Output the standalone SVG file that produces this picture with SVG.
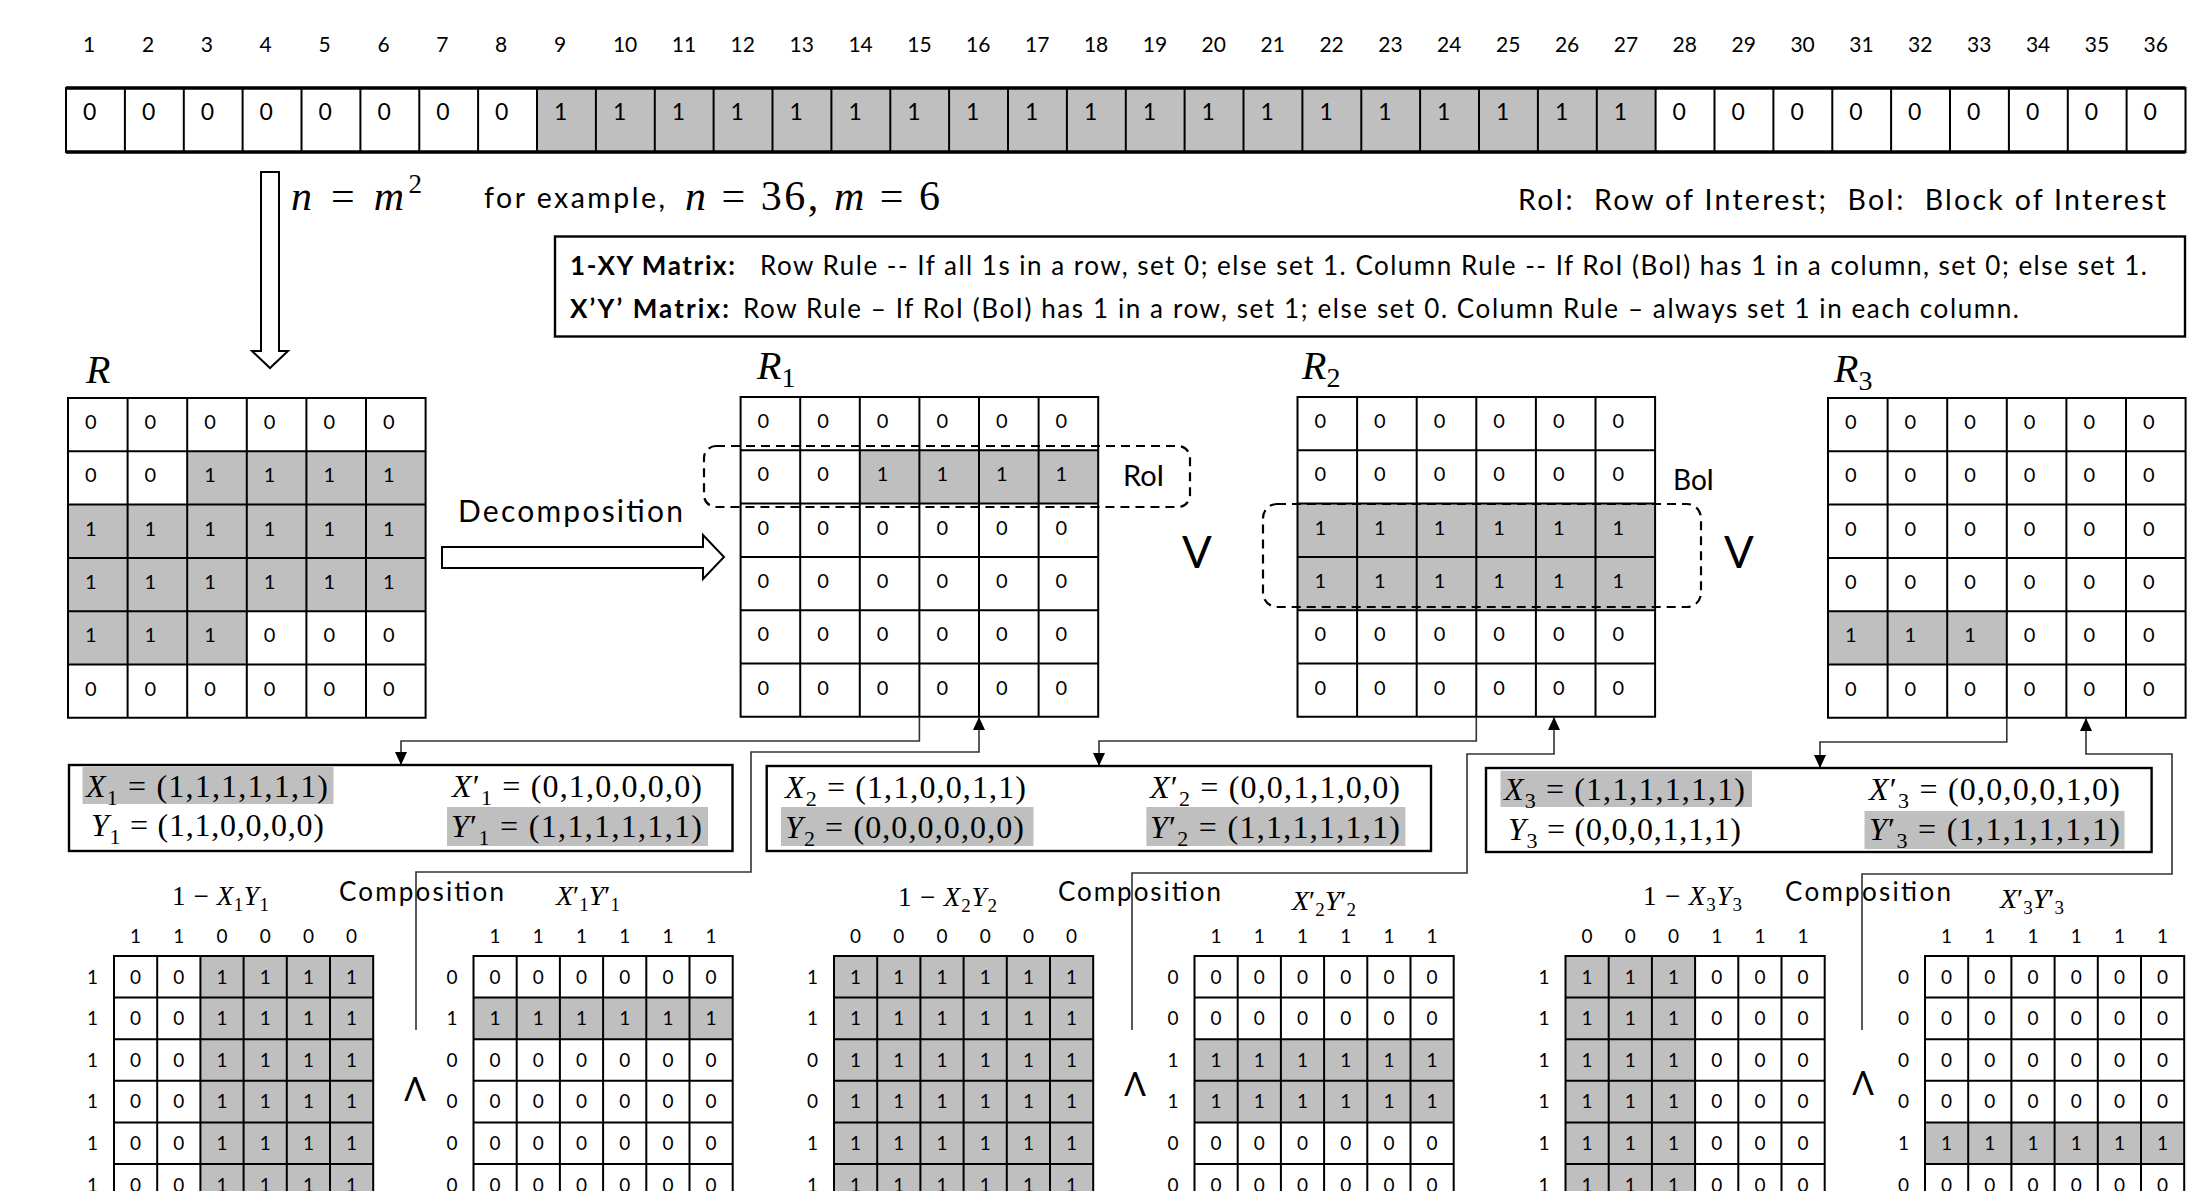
<svg xmlns="http://www.w3.org/2000/svg" xmlns:xlink="http://www.w3.org/1999/xlink" width="2208" height="1191" viewBox="0 0 2208 1191">
<style>
.s{font-family:Lato,"Noto Sans","DejaVu Sans",sans-serif;fill:#000}
.m{font-family:"Liberation Serif","DejaVu Serif",serif;fill:#000}
.i{font-style:italic}
.ix{font-size:21px}
.bv{font-size:23px}
.rc{font-size:20px}
.bc{font-size:19px;text-anchor:middle}
.gr{fill:#bfbfbf}
.grid{fill:none;stroke:#000;stroke-width:2}
.bxf{fill:#fff}
.bxs{fill:none;stroke:#000;stroke-width:2.4}
.dash{fill:none;stroke:#000;stroke-width:2.2;stroke-dasharray:9 6}
.con{fill:none;stroke:#333;stroke-width:1.6}
.ha{fill:#fff;stroke:#000;stroke-width:2}
.op{font-family:Lato,"Noto Sans",sans-serif;font-weight:400;text-anchor:middle;fill:#000}
.vec{font-size:32px}
.sb{font-size:22px}
</style>
<defs>
<marker id="ah" viewBox="0 0 13 12" refX="13" refY="6" markerWidth="13" markerHeight="12" orient="auto" markerUnits="userSpaceOnUse"><path d="M0,0 L13,6 L0,12 Z" fill="#000"/></marker>
<path id="gridL" class="grid" d="M0 0H357.6V319.8H0Z M59.6 0V319.8 M119.2 0V319.8 M178.8 0V319.8 M238.4 0V319.8 M298 0V319.8 M0 53.3H357.6 M0 106.6H357.6 M0 159.9H357.6 M0 213.2H357.6 M0 266.5H357.6"/>
<path id="gridS" class="grid" d="M0 0H259.2V249.6H0Z M43.2 0V249.6 M86.4 0V249.6 M129.6 0V249.6 M172.8 0V249.6 M216 0V249.6 M0 41.6H259.2 M0 83.2H259.2 M0 124.8H259.2 M0 166.4H259.2 M0 208H259.2"/>
</defs>
<rect width="2208" height="1191" fill="#fff"/>

<g id="index" class="s ix">
<text x="83" y="52">1</text><text x="141.9" y="52">2</text><text x="200.8" y="52">3</text><text x="259.6" y="52">4</text><text x="318.5" y="52">5</text><text x="377.4" y="52">6</text><text x="436.3" y="52">7</text><text x="495.1" y="52">8</text><text x="554" y="52">9</text><text x="612.9" y="52">10</text><text x="671.8" y="52">11</text><text x="730.6" y="52">12</text><text x="789.5" y="52">13</text><text x="848.4" y="52">14</text><text x="907.3" y="52">15</text><text x="966.1" y="52">16</text><text x="1025" y="52">17</text><text x="1083.9" y="52">18</text><text x="1142.8" y="52">19</text><text x="1201.6" y="52">20</text><text x="1260.5" y="52">21</text><text x="1319.4" y="52">22</text><text x="1378.3" y="52">23</text><text x="1437.1" y="52">24</text><text x="1496" y="52">25</text><text x="1554.9" y="52">26</text><text x="1613.8" y="52">27</text><text x="1672.6" y="52">28</text><text x="1731.5" y="52">29</text><text x="1790.4" y="52">30</text><text x="1849.3" y="52">31</text><text x="1908.1" y="52">32</text><text x="1967" y="52">33</text><text x="2025.9" y="52">34</text><text x="2084.8" y="52">35</text><text x="2143.6" y="52">36</text>
</g>

<g id="bar">
<rect x="66" y="88" width="2119.5" height="64" fill="#fff"/>
<rect class="gr" x="537" y="88" width="1118.6" height="64"/>
<path class="grid" d="M66 88H2185.5V152H66Z M124.9 88V152 M183.8 88V152 M242.6 88V152 M301.5 88V152 M360.4 88V152 M419.3 88V152 M478.1 88V152 M537 88V152 M595.9 88V152 M654.8 88V152 M713.6 88V152 M772.5 88V152 M831.4 88V152 M890.3 88V152 M949.1 88V152 M1008 88V152 M1066.9 88V152 M1125.8 88V152 M1184.6 88V152 M1243.5 88V152 M1302.4 88V152 M1361.3 88V152 M1420.1 88V152 M1479 88V152 M1537.9 88V152 M1596.8 88V152 M1655.6 88V152 M1714.5 88V152 M1773.4 88V152 M1832.3 88V152 M1891.1 88V152 M1950 88V152 M2008.9 88V152 M2067.8 88V152 M2126.6 88V152"/>
<path d="M66 88H2185.5 M66 152H2185.5" stroke="#000" stroke-width="3.5"/>
<g class="s bv">
<text x="83" y="120">0</text><text x="141.9" y="120">0</text><text x="200.8" y="120">0</text><text x="259.6" y="120">0</text><text x="318.5" y="120">0</text><text x="377.4" y="120">0</text><text x="436.3" y="120">0</text><text x="495.1" y="120">0</text><text x="554" y="120">1</text><text x="612.9" y="120">1</text><text x="671.8" y="120">1</text><text x="730.6" y="120">1</text><text x="789.5" y="120">1</text><text x="848.4" y="120">1</text><text x="907.3" y="120">1</text><text x="966.1" y="120">1</text><text x="1025" y="120">1</text><text x="1083.9" y="120">1</text><text x="1142.8" y="120">1</text><text x="1201.6" y="120">1</text><text x="1260.5" y="120">1</text><text x="1319.4" y="120">1</text><text x="1378.3" y="120">1</text><text x="1437.1" y="120">1</text><text x="1496" y="120">1</text><text x="1554.9" y="120">1</text><text x="1613.8" y="120">1</text><text x="1672.6" y="120">0</text><text x="1731.5" y="120">0</text><text x="1790.4" y="120">0</text><text x="1849.3" y="120">0</text><text x="1908.1" y="120">0</text><text x="1967" y="120">0</text><text x="2025.9" y="120">0</text><text x="2084.8" y="120">0</text><text x="2143.6" y="120">0</text>
</g>
</g>

<g id="labels-top">
<text x="291" y="210" class="m" font-size="42" textLength="131"><tspan class="i">n</tspan> = <tspan class="i">m</tspan><tspan font-size="27" dy="-17">2</tspan></text>
<text x="484" y="208" class="s" font-size="28.5" textLength="181">for example,</text>
<text x="685" y="210" class="m" font-size="42" textLength="255"><tspan class="i">n</tspan> = 36, <tspan class="i">m</tspan> = 6</text>
<text x="1518" y="210" class="s" font-size="28.5" textLength="648" xml:space="preserve">RoI:  Row of Interest;  BoI:  Block of Interest</text>
</g>

<g id="rules">
<rect class="bxs" x="555" y="236.5" width="1630" height="100"/>
<text x="570" y="275" class="s" font-size="26" font-weight="bold" textLength="165">1-XY Matrix:</text>
<text x="760" y="275" class="s" font-size="26" textLength="1387">Row Rule -- If all 1s in a row, set 0; else set 1. Column Rule -- If RoI (BoI) has 1 in a column, set 0; else set 1.</text>
<text x="570" y="318" class="s" font-size="26" font-weight="bold" textLength="159">X’Y’ Matrix:</text>
<text x="743" y="318" class="s" font-size="26" textLength="1276">Row Rule – If RoI (BoI) has 1 in a row, set 1; else set 0. Column Rule – always set 1 in each column.</text>
</g>

<g id="R">
<text x="86" y="383" class="m i" font-size="40">R</text>
<rect x="68" y="398" width="357.6" height="319.8" fill="#fff"/>
<rect class="gr" x="187.2" y="451.3" width="238.4" height="53.3"/>
<rect class="gr" x="68" y="504.6" width="357.6" height="106.6"/>
<rect class="gr" x="68" y="611.2" width="178.8" height="53.3"/>
<use xlink:href="#gridL" x="68" y="398"/>
<g class="s rc">
<text x="85" y="429">0</text><text x="144.6" y="429">0</text><text x="204.2" y="429">0</text><text x="263.8" y="429">0</text><text x="323.4" y="429">0</text><text x="383" y="429">0</text>
<text x="85" y="482.3">0</text><text x="144.6" y="482.3">0</text><text x="204.2" y="482.3">1</text><text x="263.8" y="482.3">1</text><text x="323.4" y="482.3">1</text><text x="383" y="482.3">1</text>
<text x="85" y="535.6">1</text><text x="144.6" y="535.6">1</text><text x="204.2" y="535.6">1</text><text x="263.8" y="535.6">1</text><text x="323.4" y="535.6">1</text><text x="383" y="535.6">1</text>
<text x="85" y="588.9">1</text><text x="144.6" y="588.9">1</text><text x="204.2" y="588.9">1</text><text x="263.8" y="588.9">1</text><text x="323.4" y="588.9">1</text><text x="383" y="588.9">1</text>
<text x="85" y="642.2">1</text><text x="144.6" y="642.2">1</text><text x="204.2" y="642.2">1</text><text x="263.8" y="642.2">0</text><text x="323.4" y="642.2">0</text><text x="383" y="642.2">0</text>
<text x="85" y="695.5">0</text><text x="144.6" y="695.5">0</text><text x="204.2" y="695.5">0</text><text x="263.8" y="695.5">0</text><text x="323.4" y="695.5">0</text><text x="383" y="695.5">0</text>
</g>
</g>

<g id="R1">
<text x="757" y="379" class="m" font-size="40"><tspan class="i">R</tspan><tspan font-size="28" dy="8">1</tspan></text>
<rect x="740.6" y="397" width="357.6" height="319.8" fill="#fff"/>
<rect class="gr" x="859.8" y="450.3" width="238.4" height="53.3"/>
<use xlink:href="#gridL" x="740.6" y="397"/>
<g class="s rc">
<text x="757.6" y="428">0</text><text x="817.2" y="428">0</text><text x="876.8" y="428">0</text><text x="936.4" y="428">0</text><text x="996" y="428">0</text><text x="1055.6" y="428">0</text>
<text x="757.6" y="481.3">0</text><text x="817.2" y="481.3">0</text><text x="876.8" y="481.3">1</text><text x="936.4" y="481.3">1</text><text x="996" y="481.3">1</text><text x="1055.6" y="481.3">1</text>
<text x="757.6" y="534.6">0</text><text x="817.2" y="534.6">0</text><text x="876.8" y="534.6">0</text><text x="936.4" y="534.6">0</text><text x="996" y="534.6">0</text><text x="1055.6" y="534.6">0</text>
<text x="757.6" y="587.9">0</text><text x="817.2" y="587.9">0</text><text x="876.8" y="587.9">0</text><text x="936.4" y="587.9">0</text><text x="996" y="587.9">0</text><text x="1055.6" y="587.9">0</text>
<text x="757.6" y="641.2">0</text><text x="817.2" y="641.2">0</text><text x="876.8" y="641.2">0</text><text x="936.4" y="641.2">0</text><text x="996" y="641.2">0</text><text x="1055.6" y="641.2">0</text>
<text x="757.6" y="694.5">0</text><text x="817.2" y="694.5">0</text><text x="876.8" y="694.5">0</text><text x="936.4" y="694.5">0</text><text x="996" y="694.5">0</text><text x="1055.6" y="694.5">0</text>
</g>
<rect class="dash" x="704" y="446" width="486" height="61" rx="12"/>
<text x="1123" y="486" class="s" font-size="29">RoI</text>
</g>

<text x="1197" y="568" class="op" font-size="44">V</text>

<g id="R2">
<text x="1302" y="379" class="m" font-size="40"><tspan class="i">R</tspan><tspan font-size="28" dy="8">2</tspan></text>
<rect x="1297.5" y="397" width="357.6" height="319.8" fill="#fff"/>
<rect class="gr" x="1297.5" y="503.6" width="357.6" height="106.6"/>
<use xlink:href="#gridL" x="1297.5" y="397"/>
<g class="s rc">
<text x="1314.5" y="428">0</text><text x="1374.1" y="428">0</text><text x="1433.7" y="428">0</text><text x="1493.3" y="428">0</text><text x="1552.9" y="428">0</text><text x="1612.5" y="428">0</text>
<text x="1314.5" y="481.3">0</text><text x="1374.1" y="481.3">0</text><text x="1433.7" y="481.3">0</text><text x="1493.3" y="481.3">0</text><text x="1552.9" y="481.3">0</text><text x="1612.5" y="481.3">0</text>
<text x="1314.5" y="534.6">1</text><text x="1374.1" y="534.6">1</text><text x="1433.7" y="534.6">1</text><text x="1493.3" y="534.6">1</text><text x="1552.9" y="534.6">1</text><text x="1612.5" y="534.6">1</text>
<text x="1314.5" y="587.9">1</text><text x="1374.1" y="587.9">1</text><text x="1433.7" y="587.9">1</text><text x="1493.3" y="587.9">1</text><text x="1552.9" y="587.9">1</text><text x="1612.5" y="587.9">1</text>
<text x="1314.5" y="641.2">0</text><text x="1374.1" y="641.2">0</text><text x="1433.7" y="641.2">0</text><text x="1493.3" y="641.2">0</text><text x="1552.9" y="641.2">0</text><text x="1612.5" y="641.2">0</text>
<text x="1314.5" y="694.5">0</text><text x="1374.1" y="694.5">0</text><text x="1433.7" y="694.5">0</text><text x="1493.3" y="694.5">0</text><text x="1552.9" y="694.5">0</text><text x="1612.5" y="694.5">0</text>
</g>
<rect class="dash" x="1263" y="504" width="438" height="103" rx="14"/>
<text x="1673" y="490" class="s" font-size="28">BoI</text>
</g>

<text x="1739" y="568" class="op" font-size="44">V</text>

<g id="R3">
<text x="1834" y="382" class="m" font-size="40"><tspan class="i">R</tspan><tspan font-size="28" dy="8">3</tspan></text>
<rect x="1828" y="398" width="357.6" height="319.8" fill="#fff"/>
<rect class="gr" x="1828" y="611.2" width="178.8" height="53.3"/>
<use xlink:href="#gridL" x="1828" y="398"/>
<g class="s rc">
<text x="1845" y="429">0</text><text x="1904.6" y="429">0</text><text x="1964.2" y="429">0</text><text x="2023.8" y="429">0</text><text x="2083.4" y="429">0</text><text x="2143" y="429">0</text>
<text x="1845" y="482.3">0</text><text x="1904.6" y="482.3">0</text><text x="1964.2" y="482.3">0</text><text x="2023.8" y="482.3">0</text><text x="2083.4" y="482.3">0</text><text x="2143" y="482.3">0</text>
<text x="1845" y="535.6">0</text><text x="1904.6" y="535.6">0</text><text x="1964.2" y="535.6">0</text><text x="2023.8" y="535.6">0</text><text x="2083.4" y="535.6">0</text><text x="2143" y="535.6">0</text>
<text x="1845" y="588.9">0</text><text x="1904.6" y="588.9">0</text><text x="1964.2" y="588.9">0</text><text x="2023.8" y="588.9">0</text><text x="2083.4" y="588.9">0</text><text x="2143" y="588.9">0</text>
<text x="1845" y="642.2">1</text><text x="1904.6" y="642.2">1</text><text x="1964.2" y="642.2">1</text><text x="2023.8" y="642.2">0</text><text x="2083.4" y="642.2">0</text><text x="2143" y="642.2">0</text>
<text x="1845" y="695.5">0</text><text x="1904.6" y="695.5">0</text><text x="1964.2" y="695.5">0</text><text x="2023.8" y="695.5">0</text><text x="2083.4" y="695.5">0</text><text x="2143" y="695.5">0</text>
</g>
</g>

<g id="connectors">
<polygon class="ha" points="261,172 279,172 279,351 288,351 270,368 252,351 261,351"/>
<polygon class="ha" points="442,547 703,547 703,535 724,557 703,579 703,568 442,568"/>
<text x="458" y="522" class="s" font-size="30" textLength="225">Decomposition</text>
<polyline class="con" points="919.4,717 919.4,741 401,741 401,765" marker-end="url(#ah)"/>
<polyline class="con" points="416,1030 416,872 751,872 751,752 979,752 979,717" marker-end="url(#ah)"/>
<polyline class="con" points="1476.3,717 1476.3,741 1099,741 1099,766" marker-end="url(#ah)"/>
<polyline class="con" points="1132,1030 1132,873 1467,873 1467,754 1554,754 1554,717" marker-end="url(#ah)"/>
<polyline class="con" points="2006.8,718 2006.8,742 1820,742 1820,768" marker-end="url(#ah)"/>
<polyline class="con" points="1862,1030 1862,874 2172,874 2172,754 2086,754 2086,718" marker-end="url(#ah)"/>
</g>

<g id="vec1">
<rect class="bxf" x="69" y="765" width="663.5" height="86"/>
<rect class="gr" x="82.5" y="767" width="251" height="37"/>
<rect class="gr" x="447" y="807" width="261" height="39"/>
<rect class="bxs" x="69" y="765" width="663.5" height="86"/>
<text x="86" y="797" class="m vec" textLength="242"><tspan class="i">X</tspan><tspan class="sb" dy="8">1</tspan><tspan dy="-8"> = (1,1,1,1,1,1)</tspan></text>
<text x="91" y="836" class="m vec" textLength="233"><tspan class="i">Y</tspan><tspan class="sb" dy="8">1</tspan><tspan dy="-8"> = (1,1,0,0,0,0)</tspan></text>
<text x="452" y="797" class="m vec" textLength="250"><tspan class="i">X</tspan>′<tspan class="sb" dy="8">1</tspan><tspan dy="-8"> = (0,1,0,0,0,0)</tspan></text>
<text x="451" y="837" class="m vec" textLength="251"><tspan class="i">Y</tspan>′<tspan class="sb" dy="8">1</tspan><tspan dy="-8"> = (1,1,1,1,1,1)</tspan></text>
</g>

<g id="vec2">
<rect class="bxf" x="766.7" y="766" width="664.3" height="85"/>
<rect class="gr" x="781" y="807" width="252.5" height="39"/>
<rect class="gr" x="1146.4" y="807" width="259" height="39"/>
<rect class="bxs" x="766.7" y="766" width="664.3" height="85"/>
<text x="785" y="798" class="m vec" textLength="241"><tspan class="i">X</tspan><tspan class="sb" dy="8">2</tspan><tspan dy="-8"> = (1,1,0,0,1,1)</tspan></text>
<text x="785" y="838" class="m vec" textLength="239"><tspan class="i">Y</tspan><tspan class="sb" dy="8">2</tspan><tspan dy="-8"> = (0,0,0,0,0,0)</tspan></text>
<text x="1150" y="798" class="m vec" textLength="250"><tspan class="i">X</tspan>′<tspan class="sb" dy="8">2</tspan><tspan dy="-8"> = (0,0,1,1,0,0)</tspan></text>
<text x="1150" y="838" class="m vec" textLength="250"><tspan class="i">Y</tspan>′<tspan class="sb" dy="8">2</tspan><tspan dy="-8"> = (1,1,1,1,1,1)</tspan></text>
</g>

<g id="vec3">
<rect class="bxf" x="1486" y="768" width="665.6" height="84"/>
<rect class="gr" x="1500.5" y="770.7" width="251.5" height="36.3"/>
<rect class="gr" x="1864.5" y="811" width="260" height="38"/>
<rect class="bxs" x="1486" y="768" width="665.6" height="84"/>
<text x="1504" y="800" class="m vec" textLength="241"><tspan class="i">X</tspan><tspan class="sb" dy="8">3</tspan><tspan dy="-8"> = (1,1,1,1,1,1)</tspan></text>
<text x="1508" y="840" class="m vec" textLength="233"><tspan class="i">Y</tspan><tspan class="sb" dy="8">3</tspan><tspan dy="-8"> = (0,0,0,1,1,1)</tspan></text>
<text x="1869" y="800" class="m vec" textLength="251"><tspan class="i">X</tspan>′<tspan class="sb" dy="8">3</tspan><tspan dy="-8"> = (0,0,0,0,1,0)</tspan></text>
<text x="1869" y="840" class="m vec" textLength="251"><tspan class="i">Y</tspan>′<tspan class="sb" dy="8">3</tspan><tspan dy="-8"> = (1,1,1,1,1,1)</tspan></text>
</g>

<g id="labels-bottom">
<text x="172" y="905" class="m" font-size="27" textLength="97">1 − <tspan class="i">X</tspan><tspan font-size="19" dy="6">1</tspan><tspan class="i" dy="-6">Y</tspan><tspan font-size="19" dy="6">1</tspan></text>
<text x="339" y="901" class="s" font-size="26" textLength="165">Composition</text>
<text x="556" y="905" class="m" font-size="28"><tspan class="i">X</tspan>′<tspan font-size="19" dy="6">1</tspan><tspan class="i" dy="-6">Y</tspan>′<tspan font-size="19" dy="6">1</tspan></text>
<text x="898" y="906" class="m" font-size="27" textLength="99">1 − <tspan class="i">X</tspan><tspan font-size="19" dy="6">2</tspan><tspan class="i" dy="-6">Y</tspan><tspan font-size="19" dy="6">2</tspan></text>
<text x="1058" y="901" class="s" font-size="26" textLength="163">Composition</text>
<text x="1292" y="910" class="m" font-size="28"><tspan class="i">X</tspan>′<tspan font-size="19" dy="6">2</tspan><tspan class="i" dy="-6">Y</tspan>′<tspan font-size="19" dy="6">2</tspan></text>
<text x="1643" y="905" class="m" font-size="27" textLength="99">1 − <tspan class="i">X</tspan><tspan font-size="19" dy="6">3</tspan><tspan class="i" dy="-6">Y</tspan><tspan font-size="19" dy="6">3</tspan></text>
<text x="1785" y="901" class="s" font-size="26" textLength="166">Composition</text>
<text x="2000" y="908" class="m" font-size="28"><tspan class="i">X</tspan>′<tspan font-size="19" dy="6">3</tspan><tspan class="i" dy="-6">Y</tspan>′<tspan font-size="19" dy="6">3</tspan></text>
<text x="415" y="1101" class="op" font-size="32">Λ</text>
<text x="1135" y="1096" class="op" font-size="32">Λ</text>
<text x="1863" y="1095" class="op" font-size="32">Λ</text>
</g>

<g id="M1">
<rect x="114" y="956" width="259.2" height="249.6" fill="#fff"/>
<rect class="gr" x="200.4" y="956" width="172.8" height="249.6"/>
<use xlink:href="#gridS" x="114" y="956"/>
<g class="s bc">
<text x="135.6" y="943">1</text><text x="178.8" y="943">1</text><text x="222" y="943">0</text><text x="265.2" y="943">0</text><text x="308.4" y="943">0</text><text x="351.6" y="943">0</text>
<text x="92.5" y="983.5">1</text><text x="92.5" y="1025.1">1</text><text x="92.5" y="1066.7">1</text><text x="92.5" y="1108.3">1</text><text x="92.5" y="1149.9">1</text><text x="92.5" y="1191.5">1</text>
<text x="135.6" y="983.5">0</text><text x="178.8" y="983.5">0</text><text x="222" y="983.5">1</text><text x="265.2" y="983.5">1</text><text x="308.4" y="983.5">1</text><text x="351.6" y="983.5">1</text>
<text x="135.6" y="1025.1">0</text><text x="178.8" y="1025.1">0</text><text x="222" y="1025.1">1</text><text x="265.2" y="1025.1">1</text><text x="308.4" y="1025.1">1</text><text x="351.6" y="1025.1">1</text>
<text x="135.6" y="1066.7">0</text><text x="178.8" y="1066.7">0</text><text x="222" y="1066.7">1</text><text x="265.2" y="1066.7">1</text><text x="308.4" y="1066.7">1</text><text x="351.6" y="1066.7">1</text>
<text x="135.6" y="1108.3">0</text><text x="178.8" y="1108.3">0</text><text x="222" y="1108.3">1</text><text x="265.2" y="1108.3">1</text><text x="308.4" y="1108.3">1</text><text x="351.6" y="1108.3">1</text>
<text x="135.6" y="1149.9">0</text><text x="178.8" y="1149.9">0</text><text x="222" y="1149.9">1</text><text x="265.2" y="1149.9">1</text><text x="308.4" y="1149.9">1</text><text x="351.6" y="1149.9">1</text>
<text x="135.6" y="1191.5">0</text><text x="178.8" y="1191.5">0</text><text x="222" y="1191.5">1</text><text x="265.2" y="1191.5">1</text><text x="308.4" y="1191.5">1</text><text x="351.6" y="1191.5">1</text>
</g>
</g>

<g id="M1p">
<rect x="473.5" y="956" width="259.2" height="249.6" fill="#fff"/>
<rect class="gr" x="473.5" y="997.6" width="259.2" height="41.6"/>
<use xlink:href="#gridS" x="473.5" y="956"/>
<g class="s bc">
<text x="495.1" y="943">1</text><text x="538.3" y="943">1</text><text x="581.5" y="943">1</text><text x="624.7" y="943">1</text><text x="667.9" y="943">1</text><text x="711.1" y="943">1</text>
<text x="452" y="983.5">0</text><text x="452" y="1025.1">1</text><text x="452" y="1066.7">0</text><text x="452" y="1108.3">0</text><text x="452" y="1149.9">0</text><text x="452" y="1191.5">0</text>
<text x="495.1" y="983.5">0</text><text x="538.3" y="983.5">0</text><text x="581.5" y="983.5">0</text><text x="624.7" y="983.5">0</text><text x="667.9" y="983.5">0</text><text x="711.1" y="983.5">0</text>
<text x="495.1" y="1025.1">1</text><text x="538.3" y="1025.1">1</text><text x="581.5" y="1025.1">1</text><text x="624.7" y="1025.1">1</text><text x="667.9" y="1025.1">1</text><text x="711.1" y="1025.1">1</text>
<text x="495.1" y="1066.7">0</text><text x="538.3" y="1066.7">0</text><text x="581.5" y="1066.7">0</text><text x="624.7" y="1066.7">0</text><text x="667.9" y="1066.7">0</text><text x="711.1" y="1066.7">0</text>
<text x="495.1" y="1108.3">0</text><text x="538.3" y="1108.3">0</text><text x="581.5" y="1108.3">0</text><text x="624.7" y="1108.3">0</text><text x="667.9" y="1108.3">0</text><text x="711.1" y="1108.3">0</text>
<text x="495.1" y="1149.9">0</text><text x="538.3" y="1149.9">0</text><text x="581.5" y="1149.9">0</text><text x="624.7" y="1149.9">0</text><text x="667.9" y="1149.9">0</text><text x="711.1" y="1149.9">0</text>
<text x="495.1" y="1191.5">0</text><text x="538.3" y="1191.5">0</text><text x="581.5" y="1191.5">0</text><text x="624.7" y="1191.5">0</text><text x="667.9" y="1191.5">0</text><text x="711.1" y="1191.5">0</text>
</g>
</g>

<g id="M2">
<rect class="gr" x="834" y="956" width="259.2" height="249.6"/>
<use xlink:href="#gridS" x="834" y="956"/>
<g class="s bc">
<text x="855.6" y="943">0</text><text x="898.8" y="943">0</text><text x="942" y="943">0</text><text x="985.2" y="943">0</text><text x="1028.4" y="943">0</text><text x="1071.6" y="943">0</text>
<text x="812.5" y="983.5">1</text><text x="812.5" y="1025.1">1</text><text x="812.5" y="1066.7">0</text><text x="812.5" y="1108.3">0</text><text x="812.5" y="1149.9">1</text><text x="812.5" y="1191.5">1</text>
<text x="855.6" y="983.5">1</text><text x="898.8" y="983.5">1</text><text x="942" y="983.5">1</text><text x="985.2" y="983.5">1</text><text x="1028.4" y="983.5">1</text><text x="1071.6" y="983.5">1</text>
<text x="855.6" y="1025.1">1</text><text x="898.8" y="1025.1">1</text><text x="942" y="1025.1">1</text><text x="985.2" y="1025.1">1</text><text x="1028.4" y="1025.1">1</text><text x="1071.6" y="1025.1">1</text>
<text x="855.6" y="1066.7">1</text><text x="898.8" y="1066.7">1</text><text x="942" y="1066.7">1</text><text x="985.2" y="1066.7">1</text><text x="1028.4" y="1066.7">1</text><text x="1071.6" y="1066.7">1</text>
<text x="855.6" y="1108.3">1</text><text x="898.8" y="1108.3">1</text><text x="942" y="1108.3">1</text><text x="985.2" y="1108.3">1</text><text x="1028.4" y="1108.3">1</text><text x="1071.6" y="1108.3">1</text>
<text x="855.6" y="1149.9">1</text><text x="898.8" y="1149.9">1</text><text x="942" y="1149.9">1</text><text x="985.2" y="1149.9">1</text><text x="1028.4" y="1149.9">1</text><text x="1071.6" y="1149.9">1</text>
<text x="855.6" y="1191.5">1</text><text x="898.8" y="1191.5">1</text><text x="942" y="1191.5">1</text><text x="985.2" y="1191.5">1</text><text x="1028.4" y="1191.5">1</text><text x="1071.6" y="1191.5">1</text>
</g>
</g>

<g id="M2p">
<rect x="1194.5" y="956" width="259.2" height="249.6" fill="#fff"/>
<rect class="gr" x="1194.5" y="1039.2" width="259.2" height="83.2"/>
<use xlink:href="#gridS" x="1194.5" y="956"/>
<g class="s bc">
<text x="1216.1" y="943">1</text><text x="1259.3" y="943">1</text><text x="1302.5" y="943">1</text><text x="1345.7" y="943">1</text><text x="1388.9" y="943">1</text><text x="1432.1" y="943">1</text>
<text x="1173" y="983.5">0</text><text x="1173" y="1025.1">0</text><text x="1173" y="1066.7">1</text><text x="1173" y="1108.3">1</text><text x="1173" y="1149.9">0</text><text x="1173" y="1191.5">0</text>
<text x="1216.1" y="983.5">0</text><text x="1259.3" y="983.5">0</text><text x="1302.5" y="983.5">0</text><text x="1345.7" y="983.5">0</text><text x="1388.9" y="983.5">0</text><text x="1432.1" y="983.5">0</text>
<text x="1216.1" y="1025.1">0</text><text x="1259.3" y="1025.1">0</text><text x="1302.5" y="1025.1">0</text><text x="1345.7" y="1025.1">0</text><text x="1388.9" y="1025.1">0</text><text x="1432.1" y="1025.1">0</text>
<text x="1216.1" y="1066.7">1</text><text x="1259.3" y="1066.7">1</text><text x="1302.5" y="1066.7">1</text><text x="1345.7" y="1066.7">1</text><text x="1388.9" y="1066.7">1</text><text x="1432.1" y="1066.7">1</text>
<text x="1216.1" y="1108.3">1</text><text x="1259.3" y="1108.3">1</text><text x="1302.5" y="1108.3">1</text><text x="1345.7" y="1108.3">1</text><text x="1388.9" y="1108.3">1</text><text x="1432.1" y="1108.3">1</text>
<text x="1216.1" y="1149.9">0</text><text x="1259.3" y="1149.9">0</text><text x="1302.5" y="1149.9">0</text><text x="1345.7" y="1149.9">0</text><text x="1388.9" y="1149.9">0</text><text x="1432.1" y="1149.9">0</text>
<text x="1216.1" y="1191.5">0</text><text x="1259.3" y="1191.5">0</text><text x="1302.5" y="1191.5">0</text><text x="1345.7" y="1191.5">0</text><text x="1388.9" y="1191.5">0</text><text x="1432.1" y="1191.5">0</text>
</g>
</g>

<g id="M3">
<rect x="1565.5" y="956" width="259.2" height="249.6" fill="#fff"/>
<rect class="gr" x="1565.5" y="956" width="129.6" height="249.6"/>
<use xlink:href="#gridS" x="1565.5" y="956"/>
<g class="s bc">
<text x="1587.1" y="943">0</text><text x="1630.3" y="943">0</text><text x="1673.5" y="943">0</text><text x="1716.7" y="943">1</text><text x="1759.9" y="943">1</text><text x="1803.1" y="943">1</text>
<text x="1544" y="983.5">1</text><text x="1544" y="1025.1">1</text><text x="1544" y="1066.7">1</text><text x="1544" y="1108.3">1</text><text x="1544" y="1149.9">1</text><text x="1544" y="1191.5">1</text>
<text x="1587.1" y="983.5">1</text><text x="1630.3" y="983.5">1</text><text x="1673.5" y="983.5">1</text><text x="1716.7" y="983.5">0</text><text x="1759.9" y="983.5">0</text><text x="1803.1" y="983.5">0</text>
<text x="1587.1" y="1025.1">1</text><text x="1630.3" y="1025.1">1</text><text x="1673.5" y="1025.1">1</text><text x="1716.7" y="1025.1">0</text><text x="1759.9" y="1025.1">0</text><text x="1803.1" y="1025.1">0</text>
<text x="1587.1" y="1066.7">1</text><text x="1630.3" y="1066.7">1</text><text x="1673.5" y="1066.7">1</text><text x="1716.7" y="1066.7">0</text><text x="1759.9" y="1066.7">0</text><text x="1803.1" y="1066.7">0</text>
<text x="1587.1" y="1108.3">1</text><text x="1630.3" y="1108.3">1</text><text x="1673.5" y="1108.3">1</text><text x="1716.7" y="1108.3">0</text><text x="1759.9" y="1108.3">0</text><text x="1803.1" y="1108.3">0</text>
<text x="1587.1" y="1149.9">1</text><text x="1630.3" y="1149.9">1</text><text x="1673.5" y="1149.9">1</text><text x="1716.7" y="1149.9">0</text><text x="1759.9" y="1149.9">0</text><text x="1803.1" y="1149.9">0</text>
<text x="1587.1" y="1191.5">1</text><text x="1630.3" y="1191.5">1</text><text x="1673.5" y="1191.5">1</text><text x="1716.7" y="1191.5">0</text><text x="1759.9" y="1191.5">0</text><text x="1803.1" y="1191.5">0</text>
</g>
</g>

<g id="M3p">
<rect x="1925" y="956" width="259.2" height="249.6" fill="#fff"/>
<rect class="gr" x="1925" y="1122.4" width="259.2" height="41.6"/>
<use xlink:href="#gridS" x="1925" y="956"/>
<g class="s bc">
<text x="1946.6" y="943">1</text><text x="1989.8" y="943">1</text><text x="2033" y="943">1</text><text x="2076.2" y="943">1</text><text x="2119.4" y="943">1</text><text x="2162.6" y="943">1</text>
<text x="1903.5" y="983.5">0</text><text x="1903.5" y="1025.1">0</text><text x="1903.5" y="1066.7">0</text><text x="1903.5" y="1108.3">0</text><text x="1903.5" y="1149.9">1</text><text x="1903.5" y="1191.5">0</text>
<text x="1946.6" y="983.5">0</text><text x="1989.8" y="983.5">0</text><text x="2033" y="983.5">0</text><text x="2076.2" y="983.5">0</text><text x="2119.4" y="983.5">0</text><text x="2162.6" y="983.5">0</text>
<text x="1946.6" y="1025.1">0</text><text x="1989.8" y="1025.1">0</text><text x="2033" y="1025.1">0</text><text x="2076.2" y="1025.1">0</text><text x="2119.4" y="1025.1">0</text><text x="2162.6" y="1025.1">0</text>
<text x="1946.6" y="1066.7">0</text><text x="1989.8" y="1066.7">0</text><text x="2033" y="1066.7">0</text><text x="2076.2" y="1066.7">0</text><text x="2119.4" y="1066.7">0</text><text x="2162.6" y="1066.7">0</text>
<text x="1946.6" y="1108.3">0</text><text x="1989.8" y="1108.3">0</text><text x="2033" y="1108.3">0</text><text x="2076.2" y="1108.3">0</text><text x="2119.4" y="1108.3">0</text><text x="2162.6" y="1108.3">0</text>
<text x="1946.6" y="1149.9">1</text><text x="1989.8" y="1149.9">1</text><text x="2033" y="1149.9">1</text><text x="2076.2" y="1149.9">1</text><text x="2119.4" y="1149.9">1</text><text x="2162.6" y="1149.9">1</text>
<text x="1946.6" y="1191.5">0</text><text x="1989.8" y="1191.5">0</text><text x="2033" y="1191.5">0</text><text x="2076.2" y="1191.5">0</text><text x="2119.4" y="1191.5">0</text><text x="2162.6" y="1191.5">0</text>
</g>
</g>
</svg>
